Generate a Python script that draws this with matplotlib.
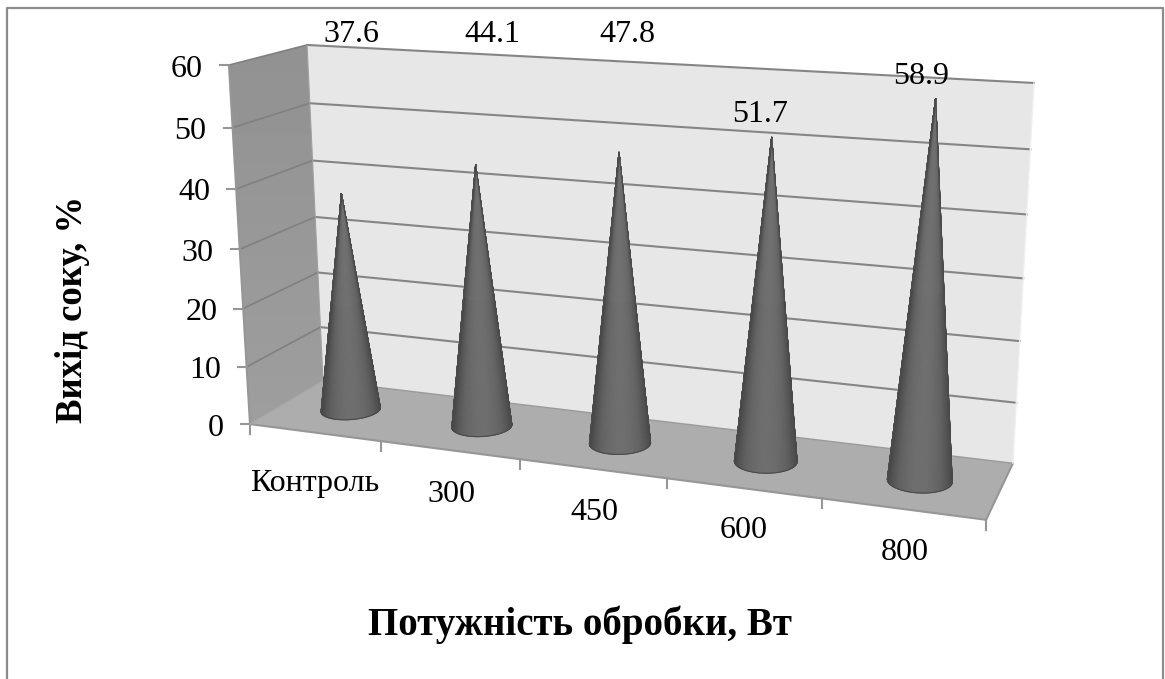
import numpy as np
import matplotlib
matplotlib.use("Agg")
import matplotlib.pyplot as plt
from matplotlib.patches import Polygon

# ---------- data ----------
categories = ["Контроль", "300", "450", "600", "800"]
juice_yield = [37.6, 44.1, 47.8, 51.7, 58.9]
value_ticks = [0, 10, 20, 30, 40, 50, 60]
x_title = "Потужність обробки, Вт"
y_title = "Вихід соку, %"

# ---------- layout ----------
W, H = 1165, 679
VMAX = 60
NCAT = len(categories)
# scene corner (category, value, depth) -> screen pixel, fitted to a camera below
corner_scene = [(0, 0, 0), (NCAT, 0, 0), (0, VMAX, 0), (0, 0, 1), (NCAT, 0, 1),
                (0, VMAX, 1), (NCAT, VMAX, 1)]
corner_pixel = [(250, 424), (986, 520), (229, 65), (323, 381), (1013, 463),
                (307, 45), (1034, 83)]
label_pos = [(351, 34), (492, 34), (627, 34), (760, 115), (921, 76)]
cat_label_pos = [(315, 484), (451, 494), (594, 512), (744, 531), (905, 553)]
CONE_RX, CONE_RD = 0.2, 0.215
CONE_DEPTH = 0.5


def fit_camera(scene, pixel):
    A, b = [], []
    for (x, y, z), (u, v) in zip(scene, pixel):
        A.append([x, y, z, 1, 0, 0, 0, 0, -u * x, -u * y, -u * z])
        A.append([0, 0, 0, 0, x, y, z, 1, -v * x, -v * y, -v * z])
        b += [u, v]
    s = np.linalg.lstsq(np.array(A, float), np.array(b, float), rcond=None)[0]
    return np.append(s, 1).reshape(3, 4)


CAM = fit_camera(corner_scene, corner_pixel)


def P(x, y, z):
    q = CAM @ np.array([x, y, z, 1.0])
    return q[0] / q[2], q[1] / q[2]


plt.rcParams["font.family"] = ["Liberation Serif", "DejaVu Serif"]
fig = plt.figure(figsize=(W / 100, H / 100), dpi=100, facecolor="white")
ax = fig.add_axes([0, 0, 1, 1])
ax.set_xlim(0, W)
ax.set_ylim(H, 0)
ax.axis("off")

# chart frame (runs off the bottom of the picture)
ax.plot([7, 7, 1163, 1163], [H + 5, 8, 8, H + 5], color="#8c8c8c", lw=1.6, zorder=1)

GRID = "#858585"
EDGE = "#969696"


def quad(pts, **kw):
    ax.fill(*zip(*pts), **kw)


# back wall
quad([P(0, 0, 1), P(NCAT, 0, 1), P(NCAT, VMAX, 1), P(0, VMAX, 1)], fc="#e7e7e7", ec="none", zorder=2)
# left wall, a slight vertical gradient clipped to the wall
wall = Polygon([P(0, 0, 0), P(0, 0, 1), P(0, VMAX, 1), P(0, VMAX, 0)], closed=True,
               transform=ax.transData, fc="none", ec="none")
ax.add_patch(wall)
grad = np.linspace(0.57, 0.62, 64).reshape(-1, 1)
im = ax.imshow(grad, extent=(225, 330, 430, 40), cmap="gray", vmin=0, vmax=1,
               aspect="auto", zorder=2, interpolation="bilinear")
im.set_clip_path(wall)
ax.set_xlim(0, W)
ax.set_ylim(H, 0)
# floor
quad([P(0, 0, 0), P(NCAT, 0, 0), P(NCAT, 0, 1), P(0, 0, 1)], fc="#adadad", ec="none", zorder=3)

# gridlines: on the back wall, and thinner on the side wall
for v in value_ticks[1:]:
    ax.plot(*zip(P(0, v, 1), P(NCAT, v, 1)), color=GRID, lw=1.5, zorder=3)
    ax.plot(*zip(P(0, v, 0), P(0, v, 1)), color="#808080", lw=1.2, zorder=3)

# wall / floor outlines
for seg in ([P(0, 0, 0), P(0, VMAX, 0)], [P(0, 0, 0), P(NCAT, 0, 0)],
            [P(NCAT, 0, 0), P(NCAT, 0, 1)]):
    ax.plot(*zip(*seg), color=EDGE, lw=1.5, zorder=3.2)
ax.plot(*zip(P(0, 0, 0), P(0, 0, 1)), color="#a8a8a8", lw=1.0, zorder=3.2)
ax.plot(*zip(P(0, 0, 1), P(NCAT, 0, 1)), color="#9a9a9a", lw=1.0, zorder=3.2)
ax.plot(*zip(P(NCAT, 0, 1), P(NCAT, VMAX, 1)), color="#efefef", lw=1.0, zorder=3.2)
ax.plot(*zip(P(0, 0, 1), P(0, VMAX, 1)), color="#a0a0a0", lw=0.8, zorder=3.2)

# value ticks
for v in value_ticks:
    x0, y0 = P(0, v, 0)
    ax.plot([x0 - 9, x0], [y0, y0], color=EDGE, lw=1.5, zorder=3)
# category ticks
for i in range(NCAT + 1):
    x0, y0 = P(i, 0, 0)
    ax.plot([x0, x0], [y0, y0 + 10], color=EDGE, lw=1.5, zorder=3)


# cones
def cone(i, value):
    xc, dc = i + 0.5, CONE_DEPTH
    th = np.linspace(-0.6, np.pi + 0.6, 181)
    rim = np.array([P(xc + CONE_RX * np.cos(t), 0, dc - CONE_RD * np.sin(t)) for t in th])
    apex = np.array(P(xc, value, dc))
    # keep only the rim between the two silhouette tangents seen from the apex
    ang = np.arctan2(rim[:, 0] - apex[0], rim[:, 1] - apex[1])
    a, b = int(np.argmin(ang)), int(np.argmax(ang))
    lo, hi = min(a, b), max(a, b)
    vis = rim[lo:hi + 1]
    s = np.linspace(0, 1, len(vis))
    # dark at the silhouette, a narrower lighter band in the middle
    shade = 0.26 + 0.17 * np.sin(np.pi * s) ** 2.2
    X = np.vstack([np.full_like(vis[:, 0], apex[0]), vis[:, 0]])
    Y = np.vstack([np.full_like(vis[:, 1], apex[1]), vis[:, 1]])
    C = np.vstack([np.minimum(shade + 0.10, 0.45), shade])
    z = 4 + i * 0.01
    ax.pcolormesh(X, Y, C, shading="gouraud", cmap="gray", vmin=0, vmax=1, zorder=z)
    # antialiased silhouette
    outline = np.vstack([[apex], vis, [apex]])
    ax.plot(outline[:, 0], outline[:, 1], color="#4a4a4a", lw=0.8, zorder=z + 0.001,
            solid_joinstyle="round")


for i, v in enumerate(juice_yield):
    cone(i, v)

# restore limits after the meshes
ax.set_xlim(0, W)
ax.set_ylim(H, 0)

# texts
TICK_FS = 23
for (x, y), v in zip(label_pos, juice_yield):
    ax.text(x, y, f"{v:.1f}", ha="center", va="center", fontsize=TICK_FS, color="black", zorder=6)
for (x, y), c in zip(cat_label_pos, categories):
    ax.text(x, y, c, ha="center", va="center", fontsize=TICK_FS, color="black", zorder=6)
for v in value_ticks:
    x0, y0 = P(0, v, 0)
    ax.text(x0 - 26, y0 + 4, str(v), ha="right", va="center", fontsize=TICK_FS, color="black", zorder=6)

ax.text(580, 625, x_title, ha="center", va="center", fontsize=28, fontweight="bold", color="black")
ax.text(73, 309, y_title, rotation=90, ha="center", va="center", fontsize=26.5, fontweight="bold", color="black")

fig.savefig("out.png", dpi=100)
